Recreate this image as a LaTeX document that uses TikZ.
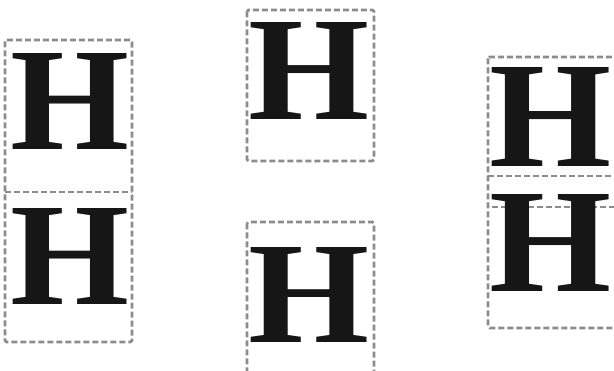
\documentclass[tikz,border=0pt]{standalone}
\usepackage{fontspec}
\newfontfamily\hfont{Liberation Serif}
\definecolor{dashgray}{RGB}{140,140,140}
\definecolor{ink}{RGB}{22,22,22}
\tikzset{
  dbox/.style={draw=dashgray, line width=2.6pt, dash pattern=on 6pt off 3pt, rounded corners=1.5pt},
  glyph/.style={anchor=south west, inner sep=0pt, outer sep=0pt, text=ink}
}
% #1 name, #2 x1, #3 y1 (top), #4 x2, #5 y2 (baseline)
\newcommand\glyphH[5]{%
  \pgfmathsetmacro\gw{(#4-#2)/0.95}%
  \pgfmathsetmacro\gh{#5-#3}%
  \pgfmathsetmacro\gx{#2-0.025*\gw}%
  \node[glyph] (#1) at (\gx pt,-#5 pt) {\resizebox{\gw pt}{\gh pt}{\hfont\bfseries H}};%
}
\begin{document}
\begin{tikzpicture}
\useasboundingbox (0pt,0pt) rectangle (614pt,-371pt);
% left column
\draw[dbox] (5pt,-40pt) rectangle (132pt,-342pt);
\draw[dbox] (5pt,-192pt) -- (132pt,-192pt);
\glyphH{l1}{13}{54}{126}{150}
\glyphH{l2}{13}{209}{126}{305}
% middle column
\draw[dbox] (247pt,-10pt) rectangle (374pt,-161pt);
\draw[dbox] (247pt,-222pt) rectangle (374pt,-390pt);
\glyphH{m1}{252}{23}{367}{120}
\glyphH{m2}{252}{248}{367}{343}
% right column
\draw[dbox] (488pt,-57pt) rectangle (650pt,-328pt);
\draw[dbox] (488pt,-176pt) -- (650pt,-176pt);
\draw[dbox] (492pt,-207pt) -- (650pt,-207pt);
\glyphH{r1}{493}{68}{609}{167}
\glyphH{r2}{493}{195}{609}{292}
\end{tikzpicture}
\end{document}
